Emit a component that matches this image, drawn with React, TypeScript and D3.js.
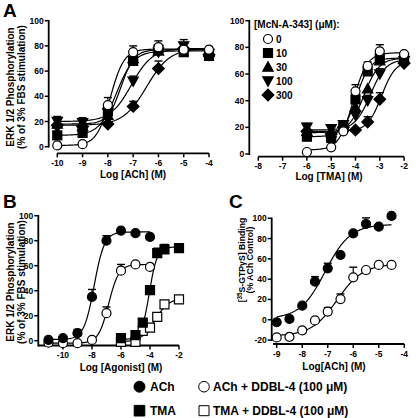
import React from "react";
import * as d3 from "d3";

const FONT = "'Liberation Sans', Arial, Helvetica, sans-serif";

// ---------- Panel A (ACh, McN-A-343) ----------
const aLogACh = [-10, -9, -8, -7, -6, -5, -4];
const aDoses = ["0", "10", "30", "100", "300"];
const aVal0 = [1, 2, 33, 75, 79, 77, 77];
const aVal10 = [9, 11, 28, 68, 77, 75, 72];
const aVal30 = [18, 16, 25, 70, 76, 79, 75];
const aVal100 = [20, 19, 27, 52, 75, 80, 74];
const aVal300 = [17, 16, 18, 32, 62, 78, 73];
const aErr0 = [0, 0, 6, 5, 5, 0, 0];
const aErr10 = [0, 0, 0, 3, 0, 0, 0];
const aErr30 = [0, 0, 0, 0, 0, 0, 0];
const aErr100 = [4, 4, 0, 4, 3, 5, 5];
const aErr300 = [0, 0, 0, 4, 6, 0, 0];
// fit parameters [bottom, top, logEC50, hill]
const aFit0 = [1, 77.5, -7.9, 1.6];
const aFit10 = [9, 76, -7.66, 1.27];
const aFit30 = [18, 77, -7.48, 1.66];
const aFit100 = [20, 78, -7.07, 1.05];
const aFit300 = [17, 78, -6.47, 0.94];

// ---------- Panel A' (TMA, McN-A-343) ----------
const tLogTMA = [-6, -5, -4.5, -4, -3.5, -3, -2];
const tVal0 = [1.5, 5, 17, 47, 66, 77, 75];
const tVal10 = [13, 12, 20, 41, 62, 72, 72];
const tVal30 = [17, 16, 21, 35, 49, 70, 71];
const tVal100 = [20, 19, 22, 29, 40, 60, 70];
const tVal300 = [17, 15, 20, 18, 24, 41, 68];
const tErr0 = [0, 0, 0, 5, 3, 5, 0];
const tErr10 = [0, 0, 0, 0, 0, 0, 0];
const tErr30 = [0, 0, 0, 0, 0, 0, 0];
const tErr100 = [3, 3, 3, 0, 4, 4, 0];
const tErr300 = [0, 0, 0, 0, 4, 5, 0];
const tFit0 = [3, 76, -4.1, 1.5];
const tFit10 = [13, 72, -3.97, 1.58];
const tFit30 = [16, 72, -3.65, 1.4];
const tFit100 = [18, 71, -3.39, 1.37];
const tFit300 = [17, 70, -2.93, 1.5];

// ---------- Panel B ----------
const bLogACh = [-11, -10, -9, -8, -7, -6, -5, -4];
const bAch = [0.6, 2, 6, 35, 80, 88, 86, 83];
const bAchErr = [0, 0, 3, 6, 4, 0, 0, 0];
const bAchDdbl = [-1.6, -2, -2, 0.6, 22, 56, 61, 59];
const bAchDdblErr = [0, 0, 0, 0, 5, 5, 0, 0];
const bLogTMA = [-6, -5, -4.5, -4, -3.5, -3, -2];
const bTma = [2, 4.5, 14.5, 40.5, 70, 73, 74];
const bTmaErr = [0, 0, 0, 0, 4, 4, 3];
const bTmaDdbl = [-1, -1, 7.8, 10.4, 19, 29, 33];
const bTmaDdblErr = [0, 0, 0, 0, 0, 0, 0];
const bFitAch = [1, 87, -7.85, 1.23];
const bFitAchDdbl = [-2, 61, -6.85, 1.23];
const bFitTma = [1, 75, -4.05, 1.6];
const bFitTmaDdbl = [-1, 34, -3.65, 0.92];

// ---------- Panel C ----------
const cLogACh = [-9, -8.5, -8, -7.5, -7, -6.5, -6, -5.5, -5, -4.5];
const cAch = [-2.5, 0.8, 13.8, 37.5, 50.7, 63.8, 85.2, 94.4, 91.7, 102.3];
const cAchErr = [0, 0, 0, 5, 5, 0, 0, 6, 0, 0];
const cAchDdbl = [-17.5, -17, -10.6, -0.7, 8, 20.4, 41.8, 49, 54, 54];
const cAchDdblErr = [0, 0, 0, 0, 4, 5, 10, 0, 0, 0];
const cFitAch = [1, 94, -7.1, 0.885];
const cFitAchDdbl = [-16, 55, -6.63, 0.86];

const tickA = [-10, -9, -8, -7, -6, -5, -4];
const tickT = [-8, -7, -6, -5, -4, -3, -2];
const tickB = [-10, -8, -6, -4, -2];
const tickC = [-9, -8, -7, -6, -5, -4];
const tickY100 = [0, 20, 40, 60, 80, 100];
const tickYC = [-20, 0, 20, 40, 60, 80, 100];

type Shape = "circle" | "square" | "triUp" | "triDown" | "diamond";

function symbolPath(shape: Shape, cx: number, cy: number, s: number): string {
  const p = d3.path();
  if (shape === "circle") {
    p.arc(cx, cy, s, 0, Math.PI * 2);
  } else if (shape === "square") {
    p.rect(cx - s, cy - s, 2 * s, 2 * s);
  } else if (shape === "triUp") {
    const h = s * 1.15;
    p.moveTo(cx, cy - h);
    p.lineTo(cx + h, cy + h * 0.8);
    p.lineTo(cx - h, cy + h * 0.8);
    p.closePath();
  } else if (shape === "triDown") {
    const h = s * 1.15;
    p.moveTo(cx, cy + h);
    p.lineTo(cx + h, cy - h * 0.8);
    p.lineTo(cx - h, cy - h * 0.8);
    p.closePath();
  } else {
    const h = s * 1.3;
    p.moveTo(cx, cy - h);
    p.lineTo(cx + h, cy);
    p.lineTo(cx, cy + h);
    p.lineTo(cx - h, cy);
    p.closePath();
  }
  return p.toString();
}

function logistic(fit: number[], x: number): number {
  const [b, t, ec, h] = fit;
  return b + (t - b) / (1 + Math.pow(10, h * (ec - x)));
}

interface Series {
  xs: number[];
  ys: number[];
  err: number[];
  fit: number[];
  shape: Shape;
  filled: boolean;
}

interface PanelProps {
  xDomain: [number, number];
  xRange: [number, number];
  yDomain: [number, number];
  yRange: [number, number];
  yAxisX: number;
  yAxisRange: [number, number];
  xAxisY: number;
  xAxisRange: [number, number];
  xTicks: number[];
  yTicks: number[];
  series: Series[];
  sym: number;
  xLabelOffset: number;
}

function Panel(p: PanelProps) {
  const x = d3.scaleLinear().domain(p.xDomain).range(p.xRange);
  const y = d3.scaleLinear().domain(p.yDomain).range(p.yRange);
  return (
    <g>
      {/* axes */}
      <line x1={p.yAxisX} x2={p.yAxisX} y1={p.yAxisRange[0]} y2={p.yAxisRange[1]} stroke="#000" strokeWidth={1.8} />
      {p.yTicks.map((t) => (
        <g key={"yt" + t}>
          <line x1={p.yAxisX - 4} x2={p.yAxisX} y1={y(t)} y2={y(t)} stroke="#000" strokeWidth={1.5} />
          <text x={p.yAxisX - 5} y={y(t) + 3} textAnchor="end" fontSize={8.5} fontWeight="bold" fontFamily={FONT}>
            {t}
          </text>
        </g>
      ))}
      <line x1={p.xAxisRange[0]} x2={p.xAxisRange[1]} y1={p.xAxisY} y2={p.xAxisY} stroke="#000" strokeWidth={1.8} />
      {p.xTicks.map((t) => (
        <g key={"xt" + t}>
          <line x1={x(t)} x2={x(t)} y1={p.xAxisY} y2={p.xAxisY + 4} stroke="#000" strokeWidth={1.5} />
          <text x={x(t)} y={p.xAxisY + p.xLabelOffset} textAnchor="middle" fontSize={8.5} fontWeight="bold" fontFamily={FONT}>
            {t}
          </text>
        </g>
      ))}
      {/* curves */}
      {p.series.map((s, i) => {
        const lo = d3.min(s.xs) as number;
        const hi = d3.max(s.xs) as number;
        const samples = d3.range(0, 121).map((k) => lo + ((hi - lo) * k) / 120);
        const l = d3
          .line<number>()
          .x((d) => x(d))
          .y((d) => y(logistic(s.fit, d)));
        return <path key={"c" + i} d={l(samples) || ""} fill="none" stroke="#000" strokeWidth={1.2} />;
      })}
      {/* error bars */}
      {p.series.map((s, i) =>
        s.xs.map((xv, j) =>
          s.err[j] > 0 ? (
            <g key={"e" + i + "-" + j}>
              <line x1={x(xv)} x2={x(xv)} y1={y(s.ys[j])} y2={y(s.ys[j] + s.err[j])} stroke="#000" strokeWidth={1.2} />
              <line x1={x(xv) - 4} x2={x(xv) + 4} y1={y(s.ys[j] + s.err[j])} y2={y(s.ys[j] + s.err[j])} stroke="#000" strokeWidth={1.4} />
            </g>
          ) : null
        )
      )}
      {/* points */}
      {p.series.map((s, i) =>
        s.xs.map((xv, j) => (
          <path
            key={"p" + i + "-" + j}
            d={symbolPath(s.shape, x(xv), y(s.ys[j]), p.sym)}
            fill={s.filled ? "#000" : "#fff"}
            stroke="#000"
            strokeWidth={1.2}
          />
        ))
      )}
    </g>
  );
}

const boldText = { fontFamily: FONT, fontWeight: "bold" as const };

export default function App() {
  const aSeries: Series[] = [
    { xs: aLogACh, ys: aVal300, err: aErr300, fit: aFit300, shape: "diamond", filled: true },
    { xs: aLogACh, ys: aVal100, err: aErr100, fit: aFit100, shape: "triDown", filled: true },
    { xs: aLogACh, ys: aVal30, err: aErr30, fit: aFit30, shape: "triUp", filled: true },
    { xs: aLogACh, ys: aVal10, err: aErr10, fit: aFit10, shape: "square", filled: true },
    { xs: aLogACh, ys: aVal0, err: aErr0, fit: aFit0, shape: "circle", filled: false },
  ];
  const tSeries: Series[] = [
    { xs: tLogTMA, ys: tVal300, err: tErr300, fit: tFit300, shape: "diamond", filled: true },
    { xs: tLogTMA, ys: tVal100, err: tErr100, fit: tFit100, shape: "triDown", filled: true },
    { xs: tLogTMA, ys: tVal30, err: tErr30, fit: tFit30, shape: "triUp", filled: true },
    { xs: tLogTMA, ys: tVal10, err: tErr10, fit: tFit10, shape: "square", filled: true },
    { xs: tLogTMA, ys: tVal0, err: tErr0, fit: tFit0, shape: "circle", filled: false },
  ];
  const bSeries: Series[] = [
    { xs: bLogTMA, ys: bTmaDdbl, err: bTmaDdblErr, fit: bFitTmaDdbl, shape: "square", filled: false },
    { xs: bLogTMA, ys: bTma, err: bTmaErr, fit: bFitTma, shape: "square", filled: true },
    { xs: bLogACh, ys: bAchDdbl, err: bAchDdblErr, fit: bFitAchDdbl, shape: "circle", filled: false },
    { xs: bLogACh, ys: bAch, err: bAchErr, fit: bFitAch, shape: "circle", filled: true },
  ];
  const cSeries: Series[] = [
    { xs: cLogACh, ys: cAchDdbl, err: cAchDdblErr, fit: cFitAchDdbl, shape: "circle", filled: false },
    { xs: cLogACh, ys: cAch, err: cAchErr, fit: cFitAch, shape: "circle", filled: true },
  ];
  const legendShapes: Shape[] = ["circle", "square", "triUp", "triDown", "diamond"];
  return (
    <svg width={416} height={418} style={{ position: "absolute", left: 0, top: 0, background: "#fff" }}>
      <rect x={0} y={0} width={416} height={418} fill="#fff" />
      {/* Panel letters */}
      <text x={3} y={17} fontSize={19} {...boldText}>A</text>
      <text x={3} y={208} fontSize={19} {...boldText}>B</text>
      <text x={229} y={208} fontSize={19} {...boldText}>C</text>

      {/* Panel A */}
      <Panel
        xDomain={[-10, -4]}
        xRange={[57.3, 209]}
        yDomain={[0, 100]}
        yRange={[146.7, 20.7]}
        yAxisX={48.7}
        yAxisRange={[147.5, 20]}
        xAxisY={153.3}
        xAxisRange={[57.3, 209]}
        xTicks={tickA}
        yTicks={tickY100}
        series={aSeries}
        sym={4.5}
        xLabelOffset={13}
      />
      <text transform="translate(14,87) rotate(-90)" textAnchor="middle" fontSize={10} {...boldText}>
        ERK 1/2 Phosphorylation
      </text>
      <text transform="translate(25,87) rotate(-90)" textAnchor="middle" fontSize={10} {...boldText}>
        (% of 3% FBS stimulation)
      </text>
      <text x={133} y={178} textAnchor="middle" fontSize={10} {...boldText}>Log [ACh] (M)</text>

      {/* Panel A' */}
      <Panel
        xDomain={[-8, -2]}
        xRange={[258.3, 404.1]}
        yDomain={[0, 100]}
        yRange={[154, 20.7]}
        yAxisX={249.3}
        yAxisRange={[155, 20]}
        xAxisY={156.7}
        xAxisRange={[258.3, 404.1]}
        xTicks={tickT}
        yTicks={tickY100}
        series={tSeries}
        sym={4.5}
        xLabelOffset={12.5}
      />
      <text x={329} y={180} textAnchor="middle" fontSize={10} {...boldText}>Log [TMA] (M)</text>
      <text x={254} y={28} fontSize={10} {...boldText}>[McN-A-343] (μM):</text>
      {aDoses.map((d, i) => (
        <g key={"leg" + d}>
          <path
            d={symbolPath(legendShapes[i], 268, 39 + i * 14, 4.5)}
            fill={i === 0 ? "#fff" : "#000"}
            stroke="#000"
            strokeWidth={1.2}
          />
          <text x={276} y={39 + i * 14 + 4} fontSize={10} {...boldText}>{d}</text>
        </g>
      ))}

      {/* Panel B */}
      <Panel
        xDomain={[-11.7, -2]}
        xRange={[38.3, 179]}
        yDomain={[-5, 100]}
        yRange={[346.95, 215.7]}
        yAxisX={38.3}
        yAxisRange={[346.5, 215]}
        xAxisY={345.5}
        xAxisRange={[38.3, 179]}
        xTicks={tickB}
        yTicks={tickY100}
        series={bSeries}
        sym={4.5}
        xLabelOffset={12}
      />
      <text transform="translate(14,282) rotate(-90)" textAnchor="middle" fontSize={10} {...boldText}>
        ERK 1/2 Phosphorylation
      </text>
      <text transform="translate(25,282) rotate(-90)" textAnchor="middle" fontSize={10} {...boldText}>
        (% of 3% FBS stimulation)
      </text>
      <text x={121} y={370.5} textAnchor="middle" fontSize={10} {...boldText}>Log [Agonist] (M)</text>

      {/* Panel C */}
      <Panel
        xDomain={[-9, -4]}
        xRange={[276.7, 404.3]}
        yDomain={[-20, 100]}
        yRange={[340, 218.3]}
        yAxisX={271.7}
        yAxisRange={[341, 217.5]}
        xAxisY={344}
        xAxisRange={[273, 404.3]}
        xTicks={tickC}
        yTicks={tickYC}
        series={cSeries}
        sym={4.5}
        xLabelOffset={12.5}
      />
      <text transform="translate(245,260) rotate(-90)" textAnchor="middle" fontSize={8.7} {...boldText}>
        [<tspan fontSize={6.3} dy={-3}>35</tspan>
        <tspan dy={3}>S-GTPγS]  Binding</tspan>
      </text>
      <text transform="translate(253,260) rotate(-90)" textAnchor="middle" fontSize={8.7} {...boldText}>
        (% ACh  Control)
      </text>
      <text x={334} y={370} textAnchor="middle" fontSize={10} {...boldText}>Log[ACh] (M)</text>

      {/* bottom legend */}
      <path d={symbolPath("circle", 139.5, 386.7, 5.5)} fill="#000" stroke="#000" />
      <text x={150} y={391} fontSize={12} {...boldText}>ACh</text>
      <path d={symbolPath("circle", 204, 386.7, 5.3)} fill="#fff" stroke="#000" strokeWidth={1} />
      <text x={213} y={391} fontSize={12} {...boldText}>ACh + DDBL-4 (100 μM)</text>
      <path d={symbolPath("square", 139.5, 410.7, 5.3)} fill="#000" stroke="#000" />
      <text x={150} y={415} fontSize={12} {...boldText}>TMA</text>
      <path d={symbolPath("square", 204, 410.7, 5)} fill="#fff" stroke="#000" strokeWidth={1} />
      <text x={213} y={415} fontSize={12} {...boldText}>TMA + DDBL-4 (100 μM)</text>
    </svg>
  );
}
